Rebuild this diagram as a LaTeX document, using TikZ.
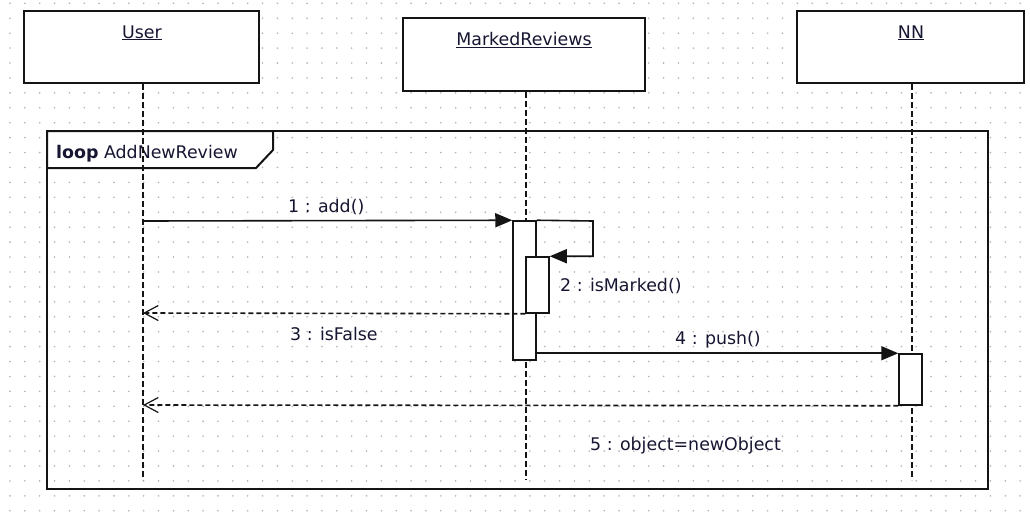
\documentclass[tikz,border=0pt]{standalone}
\usepackage{fontspec}
\setmainfont{DejaVu Sans}
\usetikzlibrary{arrows.meta,calc}

\definecolor{inkline}{RGB}{20,20,20}
\definecolor{inktext}{RGB}{22,22,50}
\definecolor{griddot}{RGB}{178,178,178}

\tikzset{
  headbox/.style={draw=inkline, line width=2pt, fill=white, inner sep=0pt},
  actbox/.style={draw=inkline, line width=1.5pt, fill=white, inner sep=0pt, minimum width=23pt},
  lifeline/.style={draw=inkline, line width=1.7pt, dash pattern=on 6pt off 3pt},
  callmsg/.style={draw=inkline, line width=1.6pt, -{Triangle[length=17pt,width=14pt]}},
  replymsg/.style={draw=inkline, line width=1.6pt, dash pattern=on 5pt off 3pt,
    -{Straight Barb[length=14pt,width=15pt,line width=1.2pt]}},
  lbl/.style={inner sep=0pt, text=inktext, font=\fontsize{17.4}{20}\selectfont},
  framebox/.style={draw=inkline, line width=2pt}
}

\begin{document}
\begin{tikzpicture}[x=1pt,y=-1pt]
\useasboundingbox (0,0) rectangle (1030,511);
\fill[white] (0,0) rectangle (1030,511);

% dotted background grid
\foreach \i in {0,...,69}
  \foreach \j in {0,...,34}
    \fill[griddot] ({10+\i*14.855},{3.3+\j*14.926}) circle (0.9pt);

% combined fragment: loop
\draw[framebox] (47,131) rectangle (988,489);
\draw[framebox, fill=white] (47,131) -- (273,131) -- (273,150) -- (256,168) -- (47,168) -- cycle;
\node[lbl, anchor=base west] (looplbl) at (56,158) {\textbf{loop} AddNewReview};

% lifeline heads
\node[headbox, minimum width=235pt, minimum height=72pt] (user) at (141.5,47) {};
\node[headbox, minimum width=242pt, minimum height=73pt] (mrev) at (524,54.5) {};
\node[headbox, minimum width=227pt, minimum height=72pt] (nn) at (910.5,47) {};
\node[lbl, anchor=base] (userlbl) at (142,38) {\underline{User}};
\node[lbl, anchor=base] (mrevlbl) at (524,46) {\underline{MarkedReviews}};
\node[lbl, anchor=base] (nnlbl) at (911,38) {\underline{NN}};

% lifelines
\coordinate (userend) at (143,480);
\coordinate (mrevend) at (526,480);
\coordinate (nnend) at (912,480);
\draw[lifeline] (user.south -| userend) -- (userend);
\draw[lifeline] (mrev.south -| mrevend) -- (mrevend);
\draw[lifeline] (nn.south -| nnend) -- (nnend);

% activation bars
\node[actbox, minimum height=139pt] (act1) at (524.5,290.5) {};
\node[actbox, minimum height=56pt] (act2) at (537.5,285) {};
\node[actbox, minimum height=51pt] (act3) at (910.5,379.5) {};

% messages
\coordinate (u1) at (143,221);
\coordinate (u3) at (143,313);
\coordinate (u5) at (143,405);
\coordinate (selfturn) at (593,221);

\draw[callmsg] (u1) -- (act1.north west);
\node[lbl, anchor=base west] (m1) at (288,212.7) {1 : add()};

\draw[callmsg] (act1.north east) -- (selfturn) |- (act2.north east);
\node[lbl, anchor=base west] (m2) at (560,291.5) {2 : isMarked()};

\draw[replymsg] (act2.south west) -- (u3);
\node[lbl, anchor=base west] (m3) at (290,340) {3 : isFalse};

\draw[callmsg] (act3.north west -| act1.east) -- (act3.north west);
\node[lbl, anchor=base west] (m4) at (675,344) {4 : push()};

\draw[replymsg] (act3.south west) -- (u5);
\node[lbl, anchor=base west] (m5) at (590,450) {5 : object=newObject};
\end{tikzpicture}
\end{document}
